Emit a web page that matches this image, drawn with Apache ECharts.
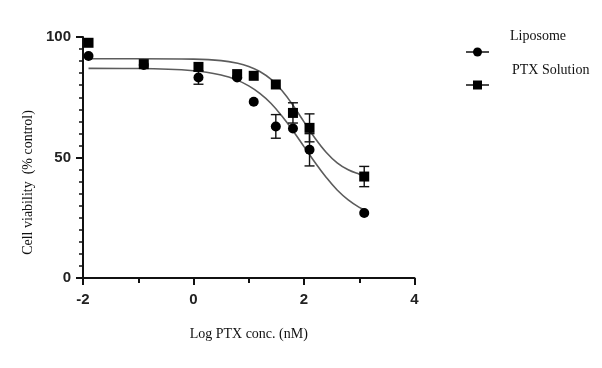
<!DOCTYPE html>
<html>
<head>
<meta charset="utf-8">
<script src="https://cdn.jsdelivr.net/npm/echarts@6/dist/echarts.min.js"></script>
<style>html,body{margin:0;padding:0;background:#fff}#c{width:602px;height:368px}</style>
</head>
<body>
<div id="c"></div>
<script>
// ---- data ----
var seriesNames = ['Liposome', 'PTX Solution'];
var logConc = [-1.9, -0.9, 0.09, 0.79, 1.09, 1.49, 1.8, 2.1, 3.09];
var liposomeViability = [92.1, 88.4, 83.2, 83.2, 73.1, 62.9, 62.0, 53.2, 27.0];
var liposomeError = [0, 0, 2.8, 0, 0, 4.9, 0, 6.7, 0];
var solutionViability = [97.6, 88.75, 87.6, 84.6, 83.9, 80.3, 68.5, 62.3, 42.1];
var solutionError = [0, 0, 0, 0, 0, 0, 4.2, 5.8, 4.2];
// fitted curves
var curveX = [-1.9, -1.0, 0.0, 0.5, 0.8, 1.0, 1.2, 1.4, 1.6, 1.8, 2.0, 2.2, 2.4, 2.6, 2.8, 3.0, 3.09];
var liposomeCurve = [87.0, 86.9, 86.0, 84.2, 82.0, 79.7, 76.6, 72.5, 67.2, 61.1, 54.5, 47.9, 41.8, 36.5, 32.4, 29.3, 28.4];
var solutionCurve = [91.0, 91.0, 90.8, 90.2, 89.1, 87.8, 85.7, 82.5, 77.8, 71.7, 64.8, 58.0, 52.2, 47.8, 44.9, 43.1, 42.5];
var xTicks = [-2, 0, 2, 4];
var yTicks = [0, 50, 100];

function pairs(xs, ys) { return xs.map(function (x, i) { return [x, ys[i]]; }); }
function errPairs(xs, ys, es) { return xs.map(function (x, i) { return [x, ys[i], es[i]]; }); }

function errorRender(params, api) {
  var e = api.value(2);
  if (!e) return null;
  var x = api.value(0), y = api.value(1);
  var hi = api.coord([x, y + e]), lo = api.coord([x, y - e]);
  var cap = 5;
  var st = { stroke: '#111', lineWidth: 1.4 };
  return {
    type: 'group',
    children: [
      { type: 'line', shape: { x1: hi[0], y1: hi[1], x2: lo[0], y2: lo[1] }, style: st },
      { type: 'line', shape: { x1: hi[0] - cap, y1: hi[1], x2: hi[0] + cap, y2: hi[1] }, style: st },
      { type: 'line', shape: { x1: lo[0] - cap, y1: lo[1], x2: lo[0] + cap, y2: lo[1] }, style: st }
    ]
  };
}

var chart = echarts.init(document.getElementById('c'), null, { renderer: 'canvas' });
var tickFont = { fontFamily: 'Liberation Sans', fontWeight: 'bold', fontSize: 15, color: '#222' };
chart.setOption({
  animation: false,
  backgroundColor: '#fff',
  grid: { left: 83, right: 187.5, top: 37, bottom: 90 },
  xAxis: {
    type: 'value', min: -2, max: 4, interval: 2,
    axisLine: { onZero: false, lineStyle: { color: '#111', width: 2 } },
    axisTick: { length: 7, lineStyle: { color: '#111', width: 2 } },
    minorTick: { show: true, splitNumber: 2, length: 5, lineStyle: { color: '#111', width: 2 } },
    splitLine: { show: false },
    axisLabel: Object.assign({ margin: 14, formatter: function (v) { return xTicks.indexOf(v) >= 0 ? String(v) : ''; } }, tickFont),
    name: 'Log PTX conc. (nM)', nameLocation: 'middle', nameGap: 49,
    nameTextStyle: { fontFamily: 'Liberation Serif', fontSize: 14, color: '#111' }
  },
  yAxis: {
    type: 'value', min: 0, max: 100, interval: 50,
    axisLine: { show: true, onZero: false, lineStyle: { color: '#111', width: 2 } },
    axisTick: { show: true, length: 7, lineStyle: { color: '#111', width: 2 } },
    minorTick: { show: true, splitNumber: 10, length: 4, lineStyle: { color: '#111', width: 1.5 } },
    splitLine: { show: false },
    axisLabel: Object.assign({ margin: 12, formatter: function (v) { return yTicks.indexOf(v) >= 0 ? String(v) : ''; } }, tickFont),
    name: 'Cell viability  (% control)', nameLocation: 'middle', nameGap: 45, nameRotate: 90,
    nameTextStyle: { fontFamily: 'Liberation Serif', fontSize: 14, color: '#111', padding: [0, 50, 0, 0] }
  },
  series: [
    { name: seriesNames[0] + ' fit', type: 'line', data: pairs(curveX, liposomeCurve), smooth: 0.4, showSymbol: false, symbol: 'none',
      lineStyle: { color: '#5c5c5c', width: 1.6 }, z: 2, silent: true },
    { name: seriesNames[1] + ' fit', type: 'line', data: pairs(curveX, solutionCurve), smooth: 0.4, showSymbol: false, symbol: 'none',
      lineStyle: { color: '#5c5c5c', width: 1.6 }, z: 2, silent: true },
    { type: 'custom', renderItem: errorRender, data: errPairs(logConc, liposomeViability, liposomeError), z: 3, encode: { x: 0, y: 1 } },
    { type: 'custom', renderItem: errorRender, data: errPairs(logConc, solutionViability, solutionError), z: 3, encode: { x: 0, y: 1 } },
    { name: seriesNames[0], type: 'scatter', symbol: 'circle', symbolSize: 10, data: pairs(logConc, liposomeViability),
      itemStyle: { color: '#000', opacity: 1 }, z: 4 },
    { name: seriesNames[1], type: 'scatter', symbol: 'rect', symbolSize: 10, data: pairs(logConc, solutionViability),
      itemStyle: { color: '#000', opacity: 1 }, z: 5 }
  ],
  graphic: [
    { type: 'line', shape: { x1: 466, y1: 52, x2: 489, y2: 52 }, style: { stroke: '#111', lineWidth: 1.5 } },
    { type: 'circle', shape: { cx: 477.5, cy: 52, r: 4.5 }, style: { fill: '#000' } },
    { type: 'text', left: 510, top: 29, style: { text: seriesNames[0], font: '14px "Liberation Serif"', fill: '#111' } },
    { type: 'line', shape: { x1: 466, y1: 85, x2: 489, y2: 85 }, style: { stroke: '#111', lineWidth: 1.5 } },
    { type: 'rect', shape: { x: 473, y: 80.5, width: 9, height: 9 }, style: { fill: '#000' } },
    { type: 'text', left: 512, top: 63, style: { text: seriesNames[1], font: '14px "Liberation Serif"', fill: '#111' } }
  ]
});
</script>
</body>
</html>
